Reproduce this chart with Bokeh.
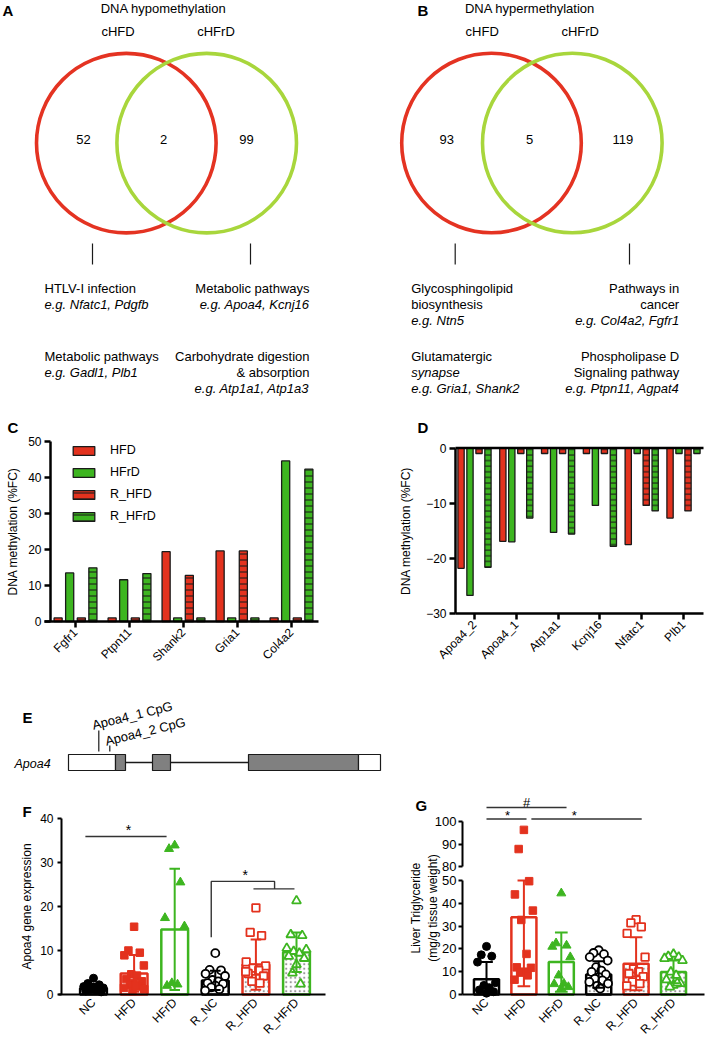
import numpy as np
from bokeh.plotting import figure
from bokeh.models import Range1d, FixedTicker, Legend, LegendItem, LinearAxis
from bokeh.layouts import column, row
from bokeh.core.properties import value
from bokeh.embed import file_html
from bokeh.resources import INLINE

FONT = "Liberation Sans"
RED = "#e3321e"
GREEN = "#3db520"
VRED = "#e43322"
VGREEN = "#a8d63c"
INK = "#1a1a1a"

# ---------------- data ----------------
VENN_SETS = ["cHFD", "cHFrD"]
A_TITLE = "DNA hypomethylation"
A_COUNTS = [52, 2, 99]            # cHFD only, shared, cHFrD only
A_LEFT = [[("HTLV-I infection", False), ("e.g. Nfatc1, Pdgfb", True)],
          [("Metabolic pathways", False), ("e.g. Gadl1, Plb1", True)]]
A_RIGHT = [[("Metabolic pathways", False), ("e.g. Apoa4, Kcnj16", True)],
           [("Carbohydrate digestion", False), ("& absorption", False), ("e.g. Atp1a1, Atp1a3", True)]]
B_TITLE = "DNA hypermethylation"
B_COUNTS = [93, 5, 119]
B_LEFT = [[("Glycosphingolipid", False), ("biosynthesis", False), ("e.g. Ntn5", True)],
          [("Glutamatergic", False), ("synapse", True), ("e.g. Gria1, Shank2", True)]]
B_RIGHT = [[("Pathways in", False), ("cancer", False), ("e.g. Col4a2, Fgfr1", True)],
           [("Phospholipase D", False), ("Signaling pathway", False), ("e.g. Ptpn11, Agpat4", True)]]

METH_SERIES = ["HFD", "HFrD", "R_HFD", "R_HFrD"]
C_GENES = ["Fgfr1", "Ptpn11", "Shank2", "Gria1", "Col4a2"]
C_HFD = [1.0, 1.0, 19.4, 19.6, 1.0]
C_HFRD = [13.5, 11.6, 1.0, 1.0, 44.6]
C_RHFD = [1.0, 1.0, 12.8, 19.6, 1.0]
C_RHFRD = [14.9, 13.3, 1.0, 1.0, 42.3]

D_GENES = ["Apoa4_2", "Apoa4_1", "Atp1a1", "Kcnj16", "Nfatc1", "Plb1"]
D_HFD = [-21.8, -16.9, -1.0, -1.0, -17.5, -12.7]
D_HFRD = [-26.7, -17.0, -15.3, -10.4, -1.0, -1.0]
D_RHFD = [-1.0, -1.0, -1.0, -1.0, -10.4, -11.4]
D_RHFRD = [-21.6, -12.7, -15.6, -17.8, -11.4, -1.0]

E_GENE = "Apoa4"
E_EXONS = [(68, 115, "UTR"), (115, 125, "CDS"), (152, 170, "CDS"), (248, 358, "CDS"), (358, 380, "UTR")]
E_CPG = ["Apoa4_1 CpG", "Apoa4_2 CpG"]
E_CPG_POS = [98.3, 109.3]

FG_GROUPS = ["NC", "HFD", "HFrD", "R_NC", "R_HFD", "R_HFrD"]
F_POINTS = [
    [3.7, 2.5, 2.2, 1.8, 1.5, 1.2, 1.0, 0.8, 0.6, 1.4],
    [15.4, 10.0, 9.5, 8.9, 6.6, 4.6, 4.3, 3.5, 3.0, 2.6, 2.2, 1.8, 1.5, 1.2, 0.8, 2.0],
    [33.9, 33.1, 25.5, 17.4, 15.5, 2.6, 2.3, 2.0],
    [9.4, 5.6, 5.5, 4.7, 4.2, 3.3, 3.0, 2.6, 2.4, 2.0, 1.6, 1.2, 0.9],
    [19.7, 14.1, 13.4, 7.4, 6.5, 6.0, 5.5, 4.8, 4.2, 3.6, 3.0, 2.6, 5.2],
    [21.3, 13.6, 13.4, 10.5, 10.2, 9.8, 9.4, 8.7, 8.2, 6.8, 4.9, 2.4],
]
F_MEAN = [1.4, 4.8, 14.8, 3.2, 6.8, 9.6]
F_SD = [1.0, 4.2, 13.8, 2.2, 5.7, 4.5]

G_POINTS = [
    [21.1, 17.4, 16.8, 14.2, 5.2, 4.0, 3.0, 2.0, 1.2, 0.6],
    [96.2, 87.8, 49.7, 43.9, 36.8, 32.7, 17.8, 11.9, 11.7, 10.0, 9.6, 8.4, 6.5],
    [44.4, 22.5, 21.5, 21.0, 16.4, 8.4, 4.8, 4.6, 3.3, 2.8],
    [19.4, 18.2, 17.7, 16.4, 14.9, 12.0, 10.5, 9.9, 8.8, 7.6, 6.9, 6.2, 5.5, 4.8, 3.8, 2.6],
    [32.8, 31.4, 29.7, 26.8, 16.4, 11.3, 10.0, 9.2, 7.8, 6.3, 5.5, 4.8, 3.8],
    [17.7, 16.7, 16.4, 15.8, 14.9, 9.9, 8.4, 6.5, 4.8, 4.1, 3.3, 5.0],
]
G_MEAN = [6.7, 33.9, 14.2, 8.8, 13.5, 9.9]
G_SD = [7.6, 30.3, 13.0, 5.8, 11.6, 5.0]


# ---------------- helpers ----------------
class Frame:
    """maps page pixels of a panel box to the panel's data units"""
    def __init__(self, box, xc, xs, yc, ys):
        self.box, self.xc, self.xs, self.yc, self.ys = box, xc, xs, yc, ys

    def x(self, px):
        return (px - self.xc) / self.xs

    def y(self, py):
        return (self.yc - py) / self.ys

    def fig(self):
        l, t, r, b = self.box
        p = figure(width=r - l, height=b - t, x_range=Range1d(self.x(l), self.x(r)),
                   y_range=Range1d(self.y(b), self.y(t)), toolbar_location=None,
                   output_backend="svg", x_axis_type=None, y_axis_type=None, min_border=0)
        p.outline_line_color = None
        p.background_fill_color = "white"
        p.border_fill_color = "white"
        return p


def axis(p, side, loc, bounds, ticks, overrides=None, lw=2.5, tick_out=6, standoff=3,
         size="12px", label=None, label_standoff=5, orient=None, line=True):
    ax = LinearAxis(fixed_location=loc, bounds=bounds, ticker=FixedTicker(ticks=ticks))
    ax.axis_line_width = lw
    ax.axis_line_color = "black" if line else None
    ax.major_tick_line_width = lw
    ax.major_tick_line_color = "black"
    ax.major_tick_out = tick_out
    ax.major_tick_in = 0
    ax.minor_tick_line_color = None
    ax.major_label_text_font = FONT
    ax.major_label_text_font_size = size
    ax.major_label_text_color = "black"
    ax.major_label_standoff = standoff
    if overrides:
        ax.major_label_overrides = overrides
    if orient is not None:
        ax.major_label_orientation = orient
    if label:
        ax.axis_label = label
        ax.axis_label_text_font = FONT
        ax.axis_label_text_font_size = "12px"
        ax.axis_label_text_font_style = "normal"
        ax.axis_label_text_color = "black"
        ax.axis_label_standoff = label_standoff
    p.add_layout(ax, side)
    return ax


def txt(p, xs, ys, texts, align="center", size="12px", style="normal", angle=0, baseline="middle"):
    p.text(x=xs, y=ys, text=texts, text_align=align, text_baseline=baseline,
           text_font=value(FONT), text_font_size=size, text_font_style=style,
           text_color="black", angle=angle, angle_units="deg")


def letter(p, fr, px, py, t):
    txt(p, [fr.x(px)], [fr.y(py)], [t], align="left", size="15px", style="bold")


# ---------------- Venn panels (A, B) ----------------
VSIZE = "13px"


def venn_panel(box, letter_x, lay, title, counts, left, right):
    fr = Frame(box, 0, 1, 0, -1)           # page pixel coordinates
    p = fr.fig()
    letter(p, fr, letter_x, 10, "AB"[int(box[0] > 0)])
    txt(p, [lay["title_x"]], [fr.y(8)], [title], size=VSIZE)
    txt(p, lay["set_x"], [fr.y(31)] * 2, VENN_SETS, size=VSIZE)
    p.circle(x=[lay["cx"][0]], y=[fr.y(lay["cy"])], radius=lay["r"], fill_color=None,
             line_color=VRED, line_width=3.6)
    p.circle(x=[lay["cx"][1]], y=[fr.y(lay["cy"])], radius=lay["r"], fill_color=None,
             line_color=VGREEN, line_width=3.6)
    txt(p, lay["count_x"], [fr.y(139)] * 3, [str(c) for c in counts], size=VSIZE)
    p.segment(x0=lay["tick_x"], x1=lay["tick_x"], y0=[fr.y(243)] * 2, y1=[fr.y(264)] * 2,
              line_color=INK, line_width=1.2)
    for groups, ax, al in ((left, lay["left_x"], "left"), (right, lay["right_x"], "right")):
        for gi, grp in enumerate(groups):
            y_start = [288, 356][gi]
            for li, (t, it) in enumerate(grp):
                txt(p, [ax], [fr.y(y_start + li * 15.8)], [t], align=al, size=VSIZE,
                    style="italic" if it else "normal")
    return p


A_LAY = dict(title_x=163, set_x=[117.5, 215.5], cx=[125.8, 206.2], cy=142.6, r=89.8,
             count_x=[83, 163, 246], tick_x=[92, 250], left_x=44, right_x=309)
B_LAY = dict(title_x=529.5, set_x=[481.7, 579.7], cx=[491, 571.8], cy=142.5, r=89.8,
             count_x=[446.3, 529, 622.3], tick_x=[454.7, 629], left_x=410.7, right_x=678.7)

pa = venn_panel((0, 0, 353, 412), 2, A_LAY, A_TITLE, A_COUNTS, A_LEFT, A_RIGHT)
pb = venn_panel((353, 0, 706, 412), 417, B_LAY, B_TITLE, B_COUNTS, B_LEFT, B_RIGHT)

# ---------------- methylation bar panels (C, D) ----------------
OFFSETS = [-0.322, -0.108, 0.108, 0.322]
BAR_W = 0.15
METH_STYLE = [(RED, None), (GREEN, None), (RED, "horizontal_line"), (GREEN, "horizontal_line")]


def methyl_bars(p, vals, hatch_scale):
    rs = []
    for k, v in enumerate(vals):
        col, hatch = METH_STYLE[k]
        v = np.array(v)
        x = np.arange(len(v)) + OFFSETS[k]
        r = p.vbar(x=x, bottom=np.minimum(v, 0), top=np.maximum(v, 0), width=BAR_W,
                   fill_color=col, line_color=INK, line_width=1.3,
                   hatch_pattern=hatch, hatch_color=INK, hatch_scale=hatch_scale, hatch_weight=1.1)
        rs.append(r)
    return rs


ROW2 = (412, 690)
frc = Frame((0, ROW2[0], 353, ROW2[1]), 75, 54, 621, 3.6)
pc = frc.fig()
rs = methyl_bars(pc, [C_HFD, C_HFRD, C_RHFD, C_RHFRD], 6)
axis(pc, "left", frc.x(50), (0, 50), [0, 10, 20, 30, 40, 50], label="DNA methylation (%FC)",
     label_standoff=5)
axis(pc, "below", 0, (frc.x(44), frc.x(318)), list(range(len(C_GENES))),
     overrides={i: g for i, g in enumerate(C_GENES)}, orient=np.pi / 4)
leg = Legend(items=[LegendItem(label=s, renderers=[r]) for s, r in zip(METH_SERIES, rs)],
             location=(70, ROW2[1] - 523), glyph_width=27, glyph_height=11, label_height=11,
             spacing=8, label_standoff=13, padding=0, margin=0, border_line_color=None,
             background_fill_alpha=0, label_text_font=FONT, label_text_font_size="12.5px",
             label_text_color="black")
pc.add_layout(leg)
letter(pc, frc, 7, 427, "C")

frd = Frame((353, ROW2[0], 706, ROW2[1]), 474, 41.8, 447.5, 5.52)
pd_ = frd.fig()
methyl_bars(pd_, [D_HFD, D_HFRD, D_RHFD, D_RHFRD], 5.6)
axis(pd_, "left", frd.x(455), (-30, 0), [-30, -20, -10, 0], label="DNA methylation (%FC)",
     label_standoff=10)
axis(pd_, "below", -30, (frd.x(455), frd.x(703)), list(range(len(D_GENES))),
     overrides={i: g for i, g in enumerate(D_GENES)}, orient=np.pi / 4)
pd_.segment(x0=[frd.x(455)], x1=[frd.x(703)], y0=[0], y1=[0], line_color="black", line_width=2.5)
letter(pd_, frd, 417, 427, "D")

# ---------------- gene structure panel (E) ----------------
fre = Frame((0, ROW2[1], 706, 795), 0, 1, 0, -1)
pe = fre.fig()
letter(pe, fre, 22, 717, "E")
txt(pe, [14], [fre.y(763)], [E_GENE], align="left", size="12.5px", style="italic")
pe.segment(x0=[E_EXONS[0][1]], x1=[E_EXONS[-1][0]], y0=[fre.y(762)], y1=[fre.y(762)],
           line_color=INK, line_width=1.3)
pe.quad(left=[e[0] for e in E_EXONS], right=[e[1] for e in E_EXONS],
        top=[fre.y(754)] * len(E_EXONS), bottom=[fre.y(770)] * len(E_EXONS),
        fill_color=["white" if e[2] == "UTR" else "#808080" for e in E_EXONS],
        line_color=INK, line_width=1.2)
pe.segment(x0=E_CPG_POS, x1=E_CPG_POS, y0=[fre.y(730), fre.y(745)], y1=[fre.y(751)] * 2,
           line_color=INK, line_width=1.2)
txt(pe, [E_CPG_POS[0] - 6.5, E_CPG_POS[1] - 4.5], [fre.y(725), fre.y(741)], E_CPG,
    align="left", angle=14, baseline="alphabetic", size="13px")

# ---------------- expression panels (F, G) ----------------
GROUP_COL = ["black", RED, GREEN, "black", RED, GREEN]
GROUP_MARK = ["circle", "square", "triangle", "circle", "square", "triangle"]
GROUP_SIZE = [8, 7.5, 9, 8, 7.5, 9]
JIT = [0.0, -0.14, 0.14, -0.24, 0.24, -0.07, 0.07, -0.19, 0.19, 0.0, -0.1, 0.1, -0.25, 0.25, -0.04, 0.04]


def expr_panel(p, points, means, sds, tf, top_clip, bar_w, cap):
    x = np.arange(len(FG_GROUPS))
    for i in range(len(FG_GROUPS)):
        repeat = i >= 3
        p.vbar(x=[x[i]], top=[tf(means[i])], bottom=0, width=bar_w, fill_color="white",
               line_color=GROUP_COL[i], line_width=2.5,
               hatch_pattern="dot" if repeat else None, hatch_color="#9a9a9a",
               hatch_scale=4.5, hatch_weight=1.0)
    for i in range(len(FG_GROUPS)):
        pts = points[i]
        xs = [x[i] + JIT[j % len(JIT)] for j in range(len(pts))]
        ys = [tf(v) for v in pts]
        filled = i < 3
        p.scatter(x=xs, y=ys, marker=GROUP_MARK[i], size=GROUP_SIZE[i],
                  fill_color=GROUP_COL[i] if filled else "white",
                  line_color=GROUP_COL[i], line_width=1 if filled else 1.8)
    for i in range(len(FG_GROUPS)):
        lo = max(means[i] - sds[i], 0)
        hi = min(means[i] + sds[i], top_clip)
        p.segment(x0=[x[i]], x1=[x[i]], y0=[tf(lo)], y1=[tf(hi)], line_color=GROUP_COL[i], line_width=2)
        caps_y = [tf(hi)]
        if means[i] - sds[i] > 0:
            caps_y.append(tf(lo))
        p.segment(x0=[x[i] - cap] * len(caps_y), x1=[x[i] + cap] * len(caps_y), y0=caps_y, y1=caps_y,
                  line_color=GROUP_COL[i], line_width=2)


frf = Frame((0, 795, 353, 1044), 93, 40.6, 994, 4.4)
pf = frf.fig()
expr_panel(pf, F_POINTS, F_MEAN, F_SD, lambda v: v, 1e9, 0.66, 0.13)
axis(pf, "left", frf.x(61), (0, 40), [0, 10, 20, 30, 40], lw=2, tick_out=4, standoff=4,
     label="Apoa4 gene expression", label_standoff=3)
axis(pf, "below", 0, (frf.x(58), frf.x(325)), list(range(len(FG_GROUPS))), lw=2, tick_out=0,
     standoff=6, overrides={i: g for i, g in enumerate(FG_GROUPS)}, orient=np.pi / 4)
F_SIG_X = [[-0.2, 1.8], [2.9, 2.9, 4.46, 4.46], [3.94, 4.95]]
F_SIG_Y = [[35.9, 35.9], [13.0, 25.7, 25.7, 24.0], [24.0, 24.0]]
pf.multi_line(xs=F_SIG_X, ys=F_SIG_Y, line_color="#333333", line_width=1.4)
txt(pf, [0.86, 3.74], [37.3, 27.1], ["*", "*"], size="14px")
letter(pf, frf, 22, 811, "F")

GAP_SHIFT = 24        # axis break: 80..100 is drawn just above 50


def brk(v):
    return v if v <= 50 else v - GAP_SHIFT


frg = Frame((353, 795, 706, 1044), 486, 37.4, 994, 2.28)
pg = frg.fig()
expr_panel(pg, G_POINTS, G_MEAN, G_SD, brk, 50, 0.67, 0.17)
gx = frg.x(462)
LOW_TICKS = [0, 10, 20, 30, 40, 50]
HIGH_TICKS = [80, 90, 100]
axis(pg, "left", gx, (0, 50), LOW_TICKS, lw=2, tick_out=4, standoff=2, size="13px")
axis(pg, "left", gx, (brk(80), brk(100)), [brk(t) for t in HIGH_TICKS], lw=2, tick_out=4,
     standoff=2, size="13px", overrides={brk(t): str(t) for t in HIGH_TICKS})
axis(pg, "left", gx, (0, brk(100)), [], lw=2, tick_out=0, line=False,
     label="Liver Triglyceride\n(mg/g tissue weight)", label_standoff=23)
axis(pg, "below", 0, (gx, frg.x(704)), list(range(len(FG_GROUPS))), lw=2, tick_out=0,
     standoff=6, overrides={i: g for i, g in enumerate(FG_GROUPS)}, orient=np.pi / 4)
G_SIG_X = [[0.0, 1.07], [1.2, 4.15], [0.0, 2.14]]
G_SIG_Y = [[101, 101], [101, 101], [106, 106]]
pg.multi_line(xs=G_SIG_X, ys=[[brk(v) for v in ys] for ys in G_SIG_Y], line_color="#333333",
              line_width=1.4)
txt(pg, [0.56, 2.35, 1.07], [brk(102.6), brk(102.6), brk(108.4)], ["*", "*", "#"], size="13px")
letter(pg, frg, 415, 805, "G")

layout = column(row(pa, pb), row(pc, pd_), pe, row(pf, pg))
open("out.html", "w").write(file_html(layout, INLINE))
